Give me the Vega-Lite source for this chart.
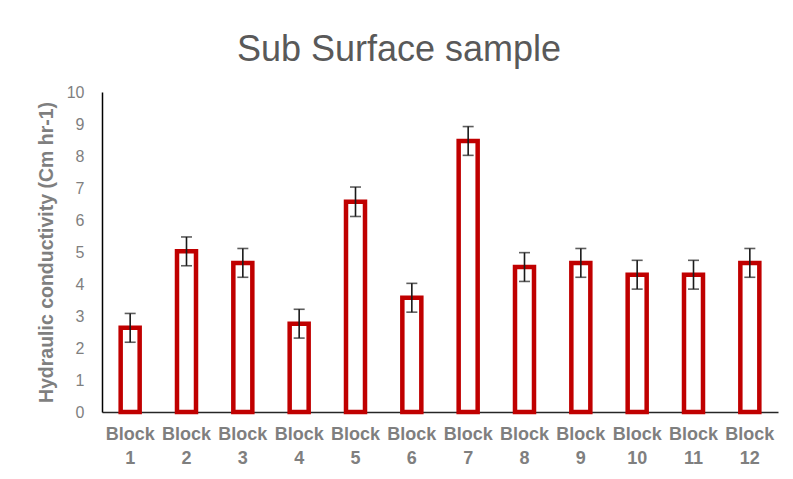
{
  "$schema": "https://vega.github.io/schema/vega-lite/v6.json",
  "autosize": {"type": "none"},
  "padding": {"left": 102, "top": 92, "right": 15, "bottom": 67},
  "width": 676,
  "height": 320,
  "background": "white",
  "title": {
    "text": "Sub Surface sample",
    "font": "Liberation Sans",
    "fontSize": 36,
    "fontWeight": "normal",
    "color": "#595959",
    "anchor": "middle",
    "dx": -41,
    "offset": 15
  },
  "config": {
    "view": {"stroke": null},
    "font": "Liberation Sans"
  },
  "data": {
    "values": [
      {"block": "Block 1", "value": 2.63, "err": 0.45},
      {"block": "Block 2", "value": 5.02, "err": 0.45},
      {"block": "Block 3", "value": 4.66, "err": 0.45},
      {"block": "Block 4", "value": 2.76, "err": 0.45},
      {"block": "Block 5", "value": 6.57, "err": 0.46},
      {"block": "Block 6", "value": 3.57, "err": 0.45},
      {"block": "Block 7", "value": 8.47, "err": 0.45},
      {"block": "Block 8", "value": 4.53, "err": 0.45},
      {"block": "Block 9", "value": 4.66, "err": 0.45},
      {"block": "Block 10", "value": 4.29, "err": 0.45},
      {"block": "Block 11", "value": 4.29, "err": 0.45},
      {"block": "Block 12", "value": 4.66, "err": 0.45}
    ]
  },
  "encoding": {
    "x": {
      "field": "block",
      "type": "nominal",
      "sort": null,
      "scale": {"paddingInner": 0, "paddingOuter": 0},
      "axis": {
        "title": null,
        "labelAngle": 0,
        "labelExpr": "split(datum.label, ' ')",
        "labelFont": "Liberation Sans",
        "labelFontSize": 18,
        "labelFontWeight": "bold",
        "labelColor": "#7f7f7f",
        "labelLineHeight": 24,
        "labelPadding": 13,
        "labelBaseline": "top",
        "labelOverlap": false,
        "ticks": false,
        "domainColor": "#262626",
        "domainWidth": 1.5,
        "grid": false
      }
    }
  },
  "layer": [
    {
      "mark": {"type": "bar", "fill": "white", "stroke": "#C00000", "strokeWidth": 4.5, "width": 19},
      "encoding": {
        "y": {
          "field": "value",
          "type": "quantitative",
          "scale": {"domain": [0, 10], "nice": false},
          "title": "Hydraulic conductivity (Cm hr-1)",
          "axis": {
            "title": "Hydraulic conductivity (Cm hr-1)",
            "titleFont": "Liberation Sans",
            "titleFontSize": 19.5,
            "titleFontWeight": "bold",
            "titleColor": "#7f7f7f",
            "titlePadding": 10,
            "values": [0,1,2,3,4,5,6,7,8,9,10],
            "labelOverlap": false,
            "labelFont": "Liberation Sans",
            "labelFontSize": 16,
            "labelColor": "#7f7f7f",
            "labelPadding": 18,
            "ticks": false,
            "grid": false,
            "domainColor": "#000000",
            "domainWidth": 1.5
          }
        }
      }
    },
    {
      "mark": {
        "type": "errorbar",
        "ticks": {"size": 11, "thickness": 1.6, "color": "#1a1a1a"},
        "rule": {"strokeWidth": 1.6, "color": "#1a1a1a"}
      },
      "encoding": {
        "y": {
          "field": "value",
          "type": "quantitative",
          "scale": {"domain": [0, 10], "nice": false},
          "title": "Hydraulic conductivity (Cm hr-1)",
          "axis": {
            "title": "Hydraulic conductivity (Cm hr-1)",
            "titleFont": "Liberation Sans",
            "titleFontSize": 19.5,
            "titleFontWeight": "bold",
            "titleColor": "#7f7f7f",
            "titlePadding": 10,
            "values": [0,1,2,3,4,5,6,7,8,9,10],
            "labelOverlap": false,
            "labelFont": "Liberation Sans",
            "labelFontSize": 16,
            "labelColor": "#7f7f7f",
            "labelPadding": 18,
            "ticks": false,
            "grid": false,
            "domainColor": "#000000",
            "domainWidth": 1.5
          }
        },
        "yError": {"field": "err"}
      }
    }
  ]
}
